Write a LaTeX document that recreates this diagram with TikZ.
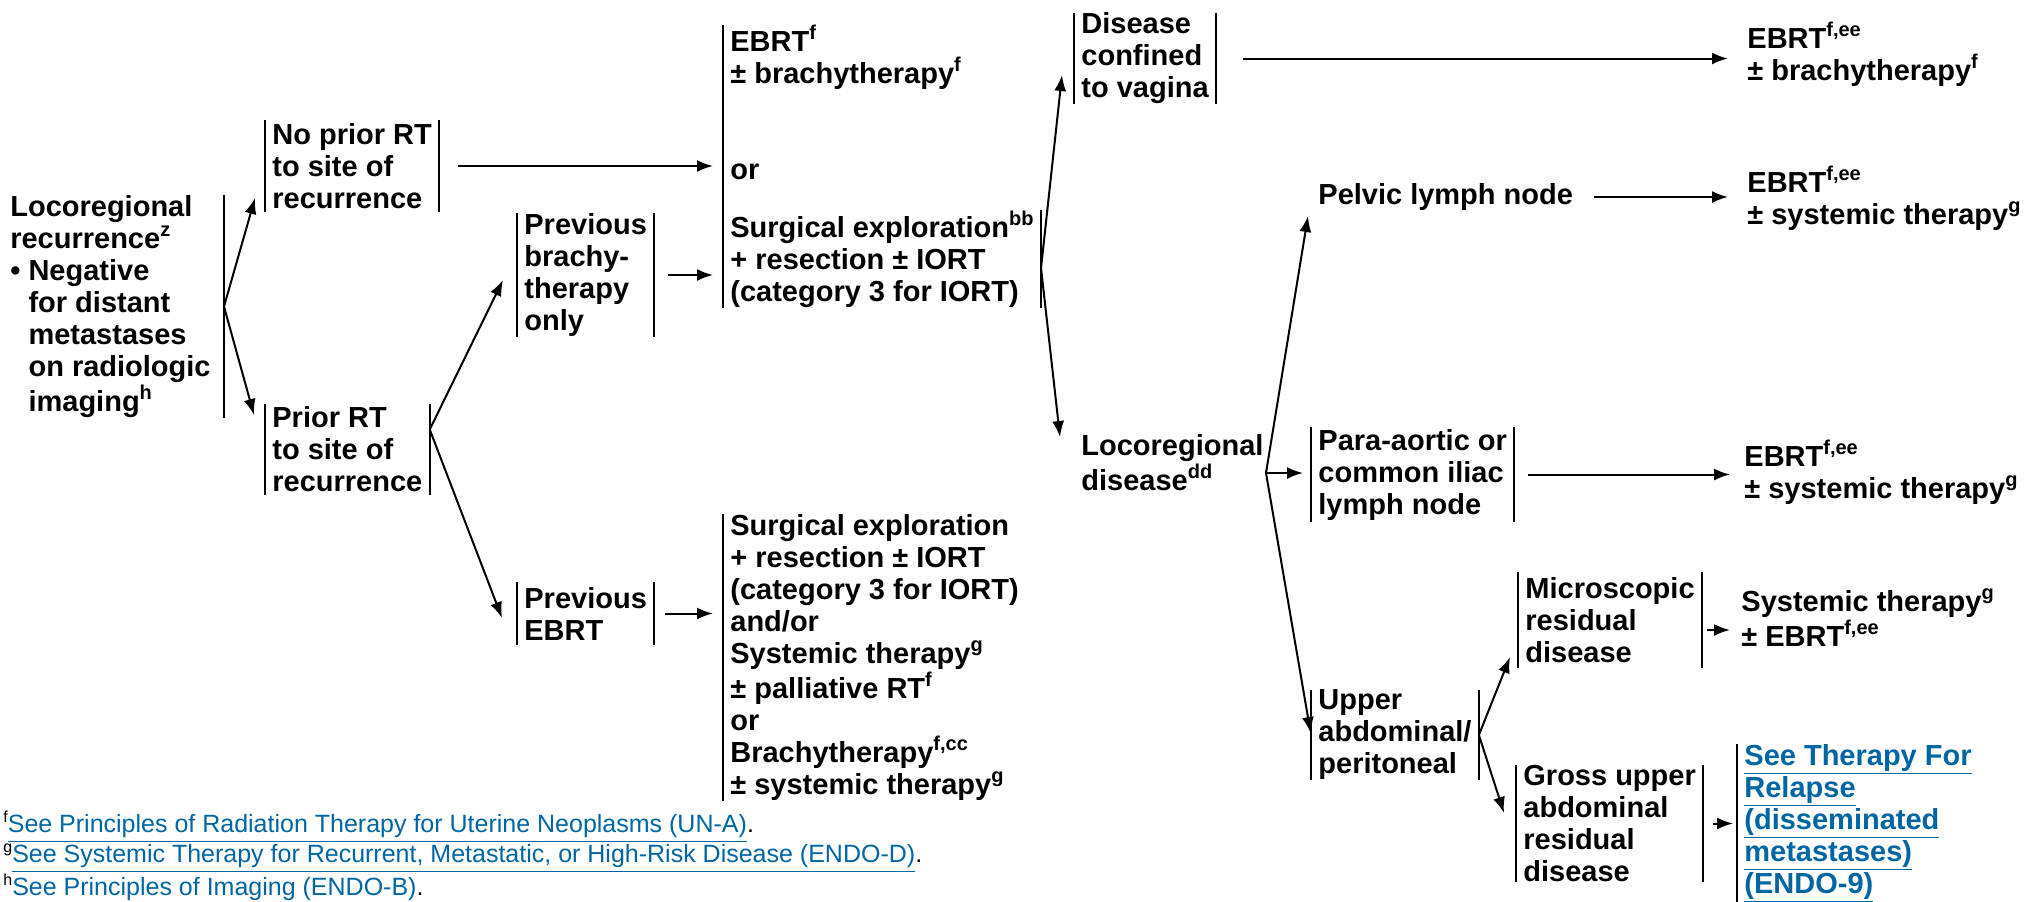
\documentclass[tikz,border=0pt]{standalone}
\usepackage{fontspec}
\setmainfont{Liberation Sans}
\usetikzlibrary{arrows.meta}

\definecolor{linkblue}{RGB}{0,102,163}

\newcommand{\supm}[1]{\raisebox{6pt}{\fontsize{10}{10}\selectfont #1}}
\newcommand{\supf}[1]{\raisebox{5pt}{\fontsize{8}{8}\selectfont #1}}
\newcommand{\lnk}[1]{\textcolor{linkblue}{\underline{#1}}}

\begin{document}
\begin{tikzpicture}[x=0.5pt, y=-0.5pt,
	every node/.style={font=\fontsize{14.5}{16}\selectfont\bfseries, align=left},
	blk/.style={inner xsep=3.5pt, inner ysep=0pt, anchor=west},
	txt/.style={inner sep=0pt, anchor=west},
	bar/.style={line width=1.1pt},
	arr/.style={line width=1pt, -{Latex[length=8pt,width=6pt]}},
	fnote/.style={inner sep=0pt, anchor=north west, font=\fontsize{12.5}{15}\selectfont}]

	\useasboundingbox (0,0) rectangle (2026,901);

% coordinates %{{{2

	% arrow ends next to the bars
	\coordinate (noIn)   at (255,198);
	\coordinate (prIn)   at (254,415);
	\coordinate (bIn)    at (503,280);
	\coordinate (eIn)    at (502,618);
	\coordinate (vagIn)  at (1062,75);
	\coordinate (locIn)  at (1060,437);
	\coordinate (pelIn)  at (1308,216);
	\coordinate (miIn)   at (1510,657);
	\coordinate (grIn)   at (1504,813);

	% split point after locoregional disease
	\coordinate (locS)   at (1266,473);

% first column %{{{2

	\node[blk, anchor=east, inner xsep=6.5pt, minimum height=106.5pt] (rec) at (224,306.5)
	{Locoregional\\recurrence\supm{z}\\• Negative\\\phantom{• }for distant\\\phantom{• }metastases\\\phantom{• }on radiologic\\\phantom{• }imaging\supm{h}};

	\node[blk, minimum height=46pt]   (noprior) at (265,166)   {No prior RT\\to site of\\recurrence};
	\node[blk, minimum height=45.5pt] (prior)   at (265,449.5) {Prior RT\\to site of\\recurrence};

	\node[blk, minimum height=58pt]   (prevbr)   at (517,275)   {Previous\\brachy-\\therapy\\only};
	\node[blk, minimum height=31.5pt] (prevebrt) at (517,613.5) {Previous\\EBRT};

% options %{{{2

	\node[blk, anchor=north west] (optA1) at (723,25)
	{EBRT\supm{f}\\± brachytherapy\supm{f}\\[32pt]or};
	\node[blk, minimum height=47pt] (optA2) at (723,259)
	{Surgical exploration\supm{bb}\\+ resection ± IORT\\(category 3 for IORT)};

	\node[blk, minimum height=142.5pt] (optB) at (723,657.5)
	{Surgical exploration\\+ resection ± IORT\\(category 3 for IORT)\\and/or\\Systemic therapy\supm{g}\\± palliative RT\supm{f}\\or\\Brachytherapy\supm{f,cc}\\± systemic therapy\supm{g}};

% sites %{{{2

	\node[blk, minimum height=43.5pt] (vag) at (1074,58.5) {Disease\\confined\\to vagina};
	\node[txt] (locdis) at (1081,462.5) {Locoregional\\disease\supm{dd}};

	\node[txt] (pelvic) at (1318,197) {Pelvic lymph node};
	\node[blk, minimum height=47.5pt] (para)  at (1311,474.5) {Para-aortic or\\common iliac\\lymph node};
	\node[blk, minimum height=42pt]   (upper) at (1311,735)   {Upper\\abdominal/\\peritoneal};

	\node[blk, minimum height=48pt]   (micro) at (1518,620)   {Microscopic\\residual\\disease};
	\node[blk, minimum height=58.5pt] (gross) at (1516,823.5) {Gross upper\\abdominal\\residual\\disease};

% treatments %{{{2

	\node[txt] (res1) at (1747,54)    {EBRT\supm{f,ee}\\± brachytherapy\supm{f}};
	\node[txt] (res2) at (1747,198)   {EBRT\supm{f,ee}\\± systemic therapy\supm{g}};
	\node[txt] (res3) at (1744,472.5) {EBRT\supm{f,ee}\\± systemic therapy\supm{g}};
	\node[txt] (res4) at (1741,617.5) {Systemic therapy\supm{g}\\± EBRT\supm{f,ee}};

	\node[blk, text=linkblue, minimum height=73.5pt] (see) at (1737,823.5)
	{\underline{See Therapy For}\\\underline{Relapse}\\\underline{(disseminated}\\\underline{metastases)}\\\underline{(ENDO-9)}};

% bars %{{{2

	\draw[bar] (rec.north east) -- (rec.south east);

	\draw[bar] (noprior.north west) -- (noprior.south west);
	\draw[bar] (noprior.north east) -- (noprior.south east);
	\draw[bar] (prior.north west) -- (prior.south west);
	\draw[bar] (prior.north east) -- (prior.south east);

	\draw[bar] (prevbr.north west) -- (prevbr.south west);
	\draw[bar] (prevbr.north east) -- (prevbr.south east);
	\draw[bar] (prevebrt.north west) -- (prevebrt.south west);
	\draw[bar] (prevebrt.north east) -- (prevebrt.south east);

	\draw[bar] (optA1.north west) -- (optA2.south west);
	\draw[bar] (optA2.north east) -- (optA2.south east);
	\draw[bar] (optB.north west) -- (optB.south west);

	\draw[bar] (vag.north west) -- (vag.south west);
	\draw[bar] (vag.north east) -- (vag.south east);
	\draw[bar] (para.north west) -- (para.south west);
	\draw[bar] (para.north east) -- (para.south east);
	\draw[bar] (upper.north west) -- (upper.south west);
	\draw[bar] (upper.north east) -- (upper.south east);

	\draw[bar] (micro.north west) -- (micro.south west);
	\draw[bar] (micro.north east) -- (micro.south east);
	\draw[bar] (gross.north west) -- (gross.south west);
	\draw[bar] (gross.north east) -- (gross.south east);

	\draw[bar] (see.north west) -- (see.south west);

% arrows %{{{2

	\draw[arr] (rec.east) -- (noIn);
	\draw[arr] (rec.east) -- (prIn);

	\draw[arr, shorten <=9.5pt, shorten >=5pt] (noprior.east) -- (noprior.east -| optA1.west);

	\draw[arr] ([yshift=10pt]prior.east) -- (bIn);
	\draw[arr] ([yshift=10pt]prior.east) -- (eIn);

	\draw[arr, shorten <=7pt, shorten >=5pt]   (prevbr.east) -- (prevbr.east -| optA2.west);
	\draw[arr, shorten <=5.5pt, shorten >=5pt] (prevebrt.east) -- (prevebrt.east -| optB.west);

	\draw[arr] ([yshift=-4.5pt]optA2.east) -- (vagIn);
	\draw[arr] ([yshift=-4.5pt]optA2.east) -- (locIn);

	\draw[arr, shorten <=13.5pt, shorten >=9.5pt] (vag.east) -- (vag.east -| res1.west);

	% locoregional disease splits in three
	\draw[arr] (locS) -- (pelIn);
	\draw[arr, shorten >=4pt] (locS) -- (locS -| para.west);
	\draw[arr, shorten >=1pt] (locS) -- (upper.west);

	\draw[arr, shorten <=10.5pt, shorten >=9.5pt] (pelvic.east) -- (pelvic.east -| res2.west);
	\draw[arr, shorten <=7pt, shorten >=7pt]      (para.east) -- (para.east -| res3.west);

	\draw[arr] (upper.east) -- (miIn);
	\draw[arr] (upper.east) -- (grIn);

	\draw[arr, shorten <=2.5pt, shorten >=5.5pt] ([yshift=-5pt]micro.east) -- ([yshift=-5pt]micro.east -| res4.west);
	\draw[arr, shorten <=5pt, shorten >=2pt]     (gross.east) -- (gross.east -| see.west);

% footnotes %{{{2

	\node[fnote] (notes) at (3,811)
	{\supf{f}\lnk{See Principles of Radiation Therapy for Uterine Neoplasms (UN-A)}.\\
	\supf{g}\lnk{See Systemic Therapy for Recurrent, Metastatic, or High-Risk Disease (ENDO-D)}.\\
	\supf{h}\lnk{See Principles of Imaging (ENDO-B)}.};

% closing %{{{2

\end{tikzpicture}
\end{document}
